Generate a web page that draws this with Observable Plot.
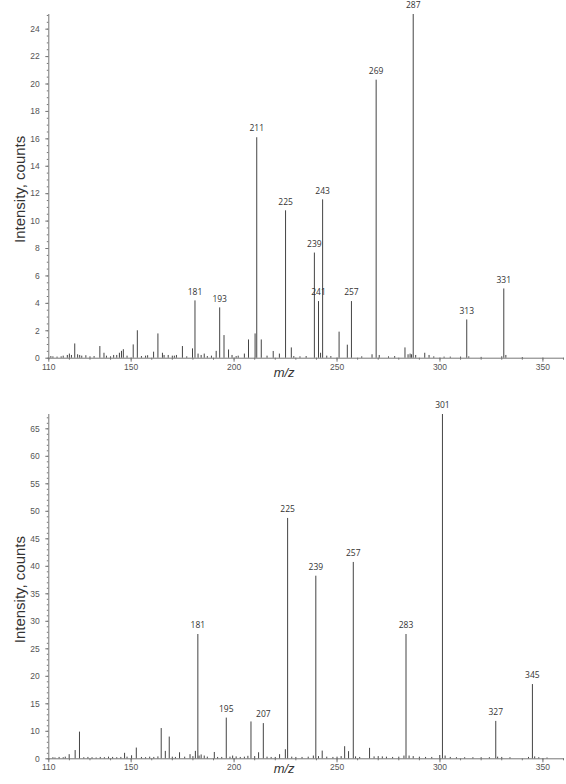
<!DOCTYPE html>
<html>
<head>
<meta charset="utf-8">
<script src="https://cdn.jsdelivr.net/npm/d3@7"></script>
<script src="https://cdn.jsdelivr.net/npm/@observablehq/plot@0.6"></script>
<style>
  html, body { margin: 0; padding: 0; background: #fff; }
  #chart svg { display: block; overflow: visible; }
</style>
</head>
<body>
<div id="chart"></div>
<script>
// ---------- Top spectrum ----------
const topMz = [
  181, 193, 211, 225, 239, 241, 243, 257, 269, 287, 313, 331,
  122.6, 134.8, 136.8, 141.5, 144.3, 145.3, 146.2, 148, 151, 153, 157, 160.9, 163, 165.2, 168, 171,
  174.9, 179.8, 182.5, 184, 185.5, 191.3, 195.1, 197.3, 199, 202, 205, 207, 210.2, 213.2, 219, 222,
  227.8, 242, 245, 251, 255, 267, 270.5, 283, 284.5, 285.5, 286.2, 288.2, 292.6, 294.7, 297, 302,
  314, 330, 332,
  111, 112, 114, 116, 117, 119, 120, 121, 124, 125, 126, 128, 130, 132, 138, 140, 143, 155, 158,
  166, 170, 172, 177, 187, 189, 201, 216, 229, 232, 235, 247, 262, 275, 278, 305, 310, 320, 340
];
const topIntensity = [
  4.18, 3.67, 16.08, 10.75, 7.67, 4.13, 11.55, 4.13, 20.28, 25.07, 2.79, 5.05,
  1.04, 0.85, 0.36, 0.2, 0.36, 0.5, 0.62, 0.15, 0.97, 2.0, 0.15, 0.44, 1.77, 0.36, 0.2, 0.15,
  0.85, 0.68, 0.3, 0.2, 0.3, 0.5, 1.65, 0.6, 0.2, 0.15, 0.3, 1.33, 1.77, 1.33, 0.49, 0.3,
  0.75, 0.36, 0.15, 1.9, 0.95, 0.25, 0.2, 0.75, 0.25, 0.3, 0.25, 0.2, 0.36, 0.2, 0.1, 0.08,
  0.1, 0.1, 0.2,
  0.12, 0.1, 0.08, 0.1, 0.15, 0.2, 0.3, 0.2, 0.25, 0.2, 0.15, 0.18, 0.1, 0.12, 0.15, 0.1, 0.2, 0.12, 0.18,
  0.2, 0.15, 0.2, 0.1, 0.12, 0.15, 0.12, 0.15, 0.12, 0.1, 0.12, 0.12, 0.1, 0.1, 0.12, 0.08, 0.08, 0.06, 0.05
];
const topLabels = ["181", "193", "211", "225", "239", "241", "243", "257", "269", "287", "313", "331"];
const topYTicks = [0, 2, 4, 6, 8, 10, 12, 14, 16, 18, 20, 22, 24];

// ---------- Bottom spectrum ----------
const bottomMz = [
  182.4, 196.2, 214.2, 226, 239.7, 257.9, 283.5, 301.2, 327.1, 344.9,
  119.9, 122.8, 124.9, 146.8, 150.2, 152.5, 164.6, 166.6, 168.5, 173.5, 178.6, 181.2, 184, 185.5,
  190.4, 199.3, 206.7, 208.2, 211.9, 222.1, 224.9, 242.8, 253.7, 255.6, 265.8, 299.9,
  112, 113, 115, 117, 118, 127, 129, 131, 133, 135, 137, 139, 141, 143, 145, 148, 155, 157, 159,
  161, 163, 170, 171.5, 176, 180, 183, 187, 192, 194, 198, 201, 203, 205, 210, 216, 218, 220, 228,
  230, 233, 236, 238.5, 241, 245, 248, 250, 252, 259, 261, 268, 270, 272, 274, 277, 280, 282.5,
  285, 287, 290, 293, 296, 302.5, 305, 308, 312, 316, 320, 324, 328, 330, 334, 343, 346, 348, 352
];
const bottomIntensity = [
  27.6, 12.4, 11.4, 48.7, 38.2, 40.7, 27.6, 67.6, 11.8, 18.5,
  1.5, 3.0, 9.7, 2.0, 1.1, 3.9, 10.5, 2.7, 7.9, 2.2, 1.5, 2.7, 1.4, 1.0,
  2.3, 1.0, 0.9, 11.7, 2.2, 1.5, 3.3, 2.8, 4.4, 2.6, 3.8, 1.2,
  0.4, 0.3, 0.5, 0.4, 0.6, 0.4, 0.5, 0.4, 0.3, 0.5, 0.4, 0.6, 0.5, 0.4, 0.5, 0.6, 0.5, 0.4, 0.6,
  0.5, 0.7, 0.6, 0.5, 0.6, 0.8, 1.0, 0.6, 0.5, 0.5, 0.6, 0.7, 0.5, 0.6, 0.8, 0.6, 0.5, 0.5, 0.6,
  0.5, 0.5, 0.6, 1.0, 0.8, 0.6, 0.5, 0.6, 0.8, 0.7, 0.5, 0.7, 0.8, 0.7, 0.6, 0.5, 0.6, 1.0,
  1.0, 0.8, 0.6, 0.5, 0.5, 1.0, 0.5, 0.4, 0.4, 0.4, 0.4, 0.4, 0.6, 0.5, 0.4, 0.5, 0.7, 0.4, 0.3
];
const bottomLabels = ["181", "195", "207", "225", "239", "257", "283", "301", "327", "345"];
const bottomYTicks = [0, 10, 15, 20, 25, 30, 35, 40, 45, 50, 55, 60, 65];
const bottomYTickLabels = ["0", "10", "15", "20", "25", "30", "35", "40", "45", "50", "55", "60", "65"];

const xTicks = [110, 150, 200, 250, 300, 350];
const xTickLabels = ["110", "150", "200", "250", "300", "350"];

// ---------- helpers ----------
const topData = topMz.map((mz, i) => ({mz, v: topIntensity[i]}));
const topLabelData = topLabels.map((t, i) => ({mz: topMz[i], v: topIntensity[i], t}));
const bottomData = bottomMz.map((mz, i) => ({mz, v: bottomIntensity[i]}));
const bottomLabelData = bottomLabels.map((t, i) => ({mz: bottomMz[i], v: bottomIntensity[i], t}));

const xMinor = d3.range(110, 361, 10);
const W = 566, H = 392;
const axisColor = "#777";
const labelFont = "'Open Sans', 'Noto Sans', sans-serif";

function commonMarks(yMajor, yMajorFmt, yMinor, mzDy) {
  return [
    Plot.axisX({ticks: xMinor, tickSize: 2, text: null, label: null, stroke: axisColor}),
    Plot.axisX({ticks: xTicks, tickSize: 4, tickPadding: 1.5, label: null, stroke: axisColor,
      tickFormat: d => xTickLabels[xTicks.indexOf(d)], fill: "#555", fontSize: 8.5}),
    Plot.axisY({ticks: yMinor, tickSize: 1.5, text: null, label: null, stroke: axisColor}),
    Plot.axisY({ticks: yMajor, tickSize: 3, tickPadding: 6, label: null, stroke: axisColor,
      tickFormat: yMajorFmt, fill: "#555", fontSize: 8.5}),
    Plot.frame({anchor: "bottom", stroke: axisColor}),
    Plot.frame({anchor: "left", stroke: axisColor}),
    Plot.text(["Intensity, counts"], {frameAnchor: "left", textAnchor: "middle", dx: -29, dy: 3,
      rotate: -90, fontSize: 15, fill: "#333", fontFamily: "'Liberation Sans', Arial, sans-serif"}),
    Plot.text(["m/z"], {frameAnchor: "bottom", dx: -22, dy: mzDy, fontSize: 13, fontStyle: "italic",
      fill: "#333", fontFamily: "'Liberation Sans', Arial, sans-serif"})
  ];
}

const topPlot = Plot.plot({
  width: W, height: H,
  marginLeft: 48.3, marginRight: 3, marginTop: 14, marginBottom: H - 357.7,
  style: {fontFamily: "'Liberation Sans', Arial, sans-serif", fontSize: "8px", color: "#555", background: "#fff"},
  x: {domain: [110, 360], axis: null},
  y: {domain: [0, 25.07], axis: null},
  marks: [
    ...commonMarks(topYTicks, d => String(d), d3.range(0, 25.01, 0.5), 19),
    Plot.ruleX(topData, {x: "mz", y1: 0, y2: "v", stroke: "#444", strokeWidth: 1}),
    Plot.text(topLabelData, {x: "mz", y: "v", text: "t", dy: -9, fontSize: 8.5, fill: "#333",
      fontFamily: labelFont})
  ]
});

// The bottom panel's printed axis compresses the 0–10 interval to the height of one 5-count step.
const squeeze = v => v <= 10 ? v / 2 : v - 5;
const bBase = 758.3 - 392, bTop = 414 - 392;
const bMajorT = bottomYTicks.map(squeeze);
const bMinorT = [0, 2, 4, 6, 8, ...d3.range(10, 68, 1)].map(squeeze);
const bottomPlot = Plot.plot({
  width: W, height: H,
  marginLeft: 48.3, marginRight: 3, marginTop: bTop, marginBottom: H - bBase,
  style: {fontFamily: "'Liberation Sans', Arial, sans-serif", fontSize: "8px", color: "#555", background: "#fff"},
  x: {domain: [110, 360], axis: null},
  y: {domain: [0, squeeze(67.6)], transform: squeeze, axis: null},
  marks: [
    ...commonMarks(bMajorT, d => bottomYTickLabels[bMajorT.indexOf(d)], bMinorT, 14.5),
    Plot.ruleX(bottomData, {x: "mz", y1: 0, y2: "v", stroke: "#444", strokeWidth: 1}),
    Plot.text(bottomLabelData, {x: "mz", y: "v", text: "t", dy: -9, fontSize: 8.5, fill: "#333",
      fontFamily: labelFont})
  ]
});

const el = document.getElementById("chart");
el.appendChild(topPlot);
el.appendChild(bottomPlot);
</script>
</body>
</html>
